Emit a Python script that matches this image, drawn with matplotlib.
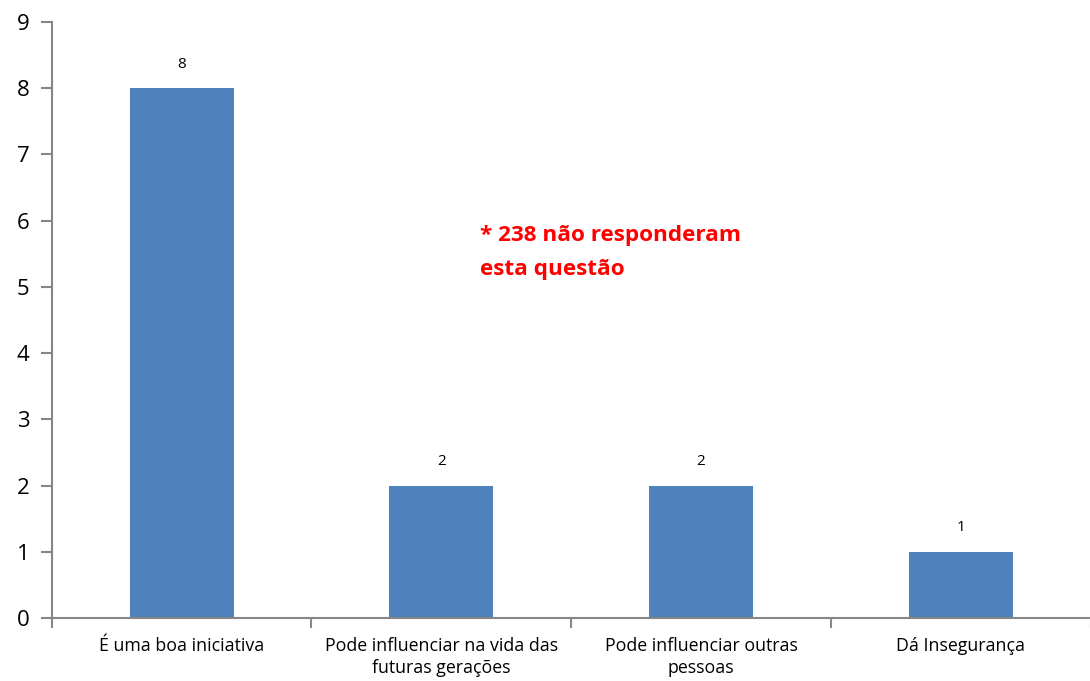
import matplotlib
matplotlib.use('Agg')
import matplotlib.pyplot as plt
import numpy as np

# chart data
categories = ['É uma boa iniciativa', 'Pode influenciar na vida das\nfuturas gerações',
              'Pode influenciar outras\npessoas', 'Dá Insegurança']
values = [8, 2, 2, 1]
note = '* 238 não responderam\nesta questão'

plt.rcParams['font.family'] = ['Open Sans', 'DejaVu Sans']

fig = plt.figure(figsize=(10.9, 6.81), dpi=100)
ax = fig.add_axes([0.0475, 0.0925, 0.953, 0.8752])

x = np.arange(len(categories))
bars = ax.bar(x, values, width=0.4, color='#4f81bd', zorder=2)

# value labels above bars
for xi, v in zip(x, values):
    ax.text(xi, v + 0.25, str(v), ha='center', va='bottom', fontsize=11, color='black')

ax.set_xlim(-0.5, len(categories) - 0.5)
ax.set_ylim(0, 9)
ax.set_yticks(range(0, 10))
ax.tick_params(axis='y', labelsize=16, length=8, width=1.5, color='#868686', pad=8)

# category ticks between groups, labels centered
ax.set_xticks(np.arange(-0.5, len(categories) - 0.5 + 0.01, 1.0))
ax.set_xticklabels([])
ax.set_xticks(x, minor=True)
ax.set_xticklabels(categories, minor=True, fontsize=12.8, multialignment='center',
                   linespacing=1.25)
ax.tick_params(axis='x', which='major', length=7, width=1.5, color='#868686', direction='out')
ax.tick_params(axis='x', which='minor', length=0, pad=14)

for side in ['top', 'right']:
    ax.spines[side].set_visible(False)
for side in ['left', 'bottom']:
    ax.spines[side].set_color('#868686')
    ax.spines[side].set_linewidth(1.5)

ax.text(1.15, 5.94, note, color='#ff0000', fontsize=16.2, fontweight='bold',
        ha='left', va='top', linespacing=1.85)

fig.savefig('out.png', dpi=100)
